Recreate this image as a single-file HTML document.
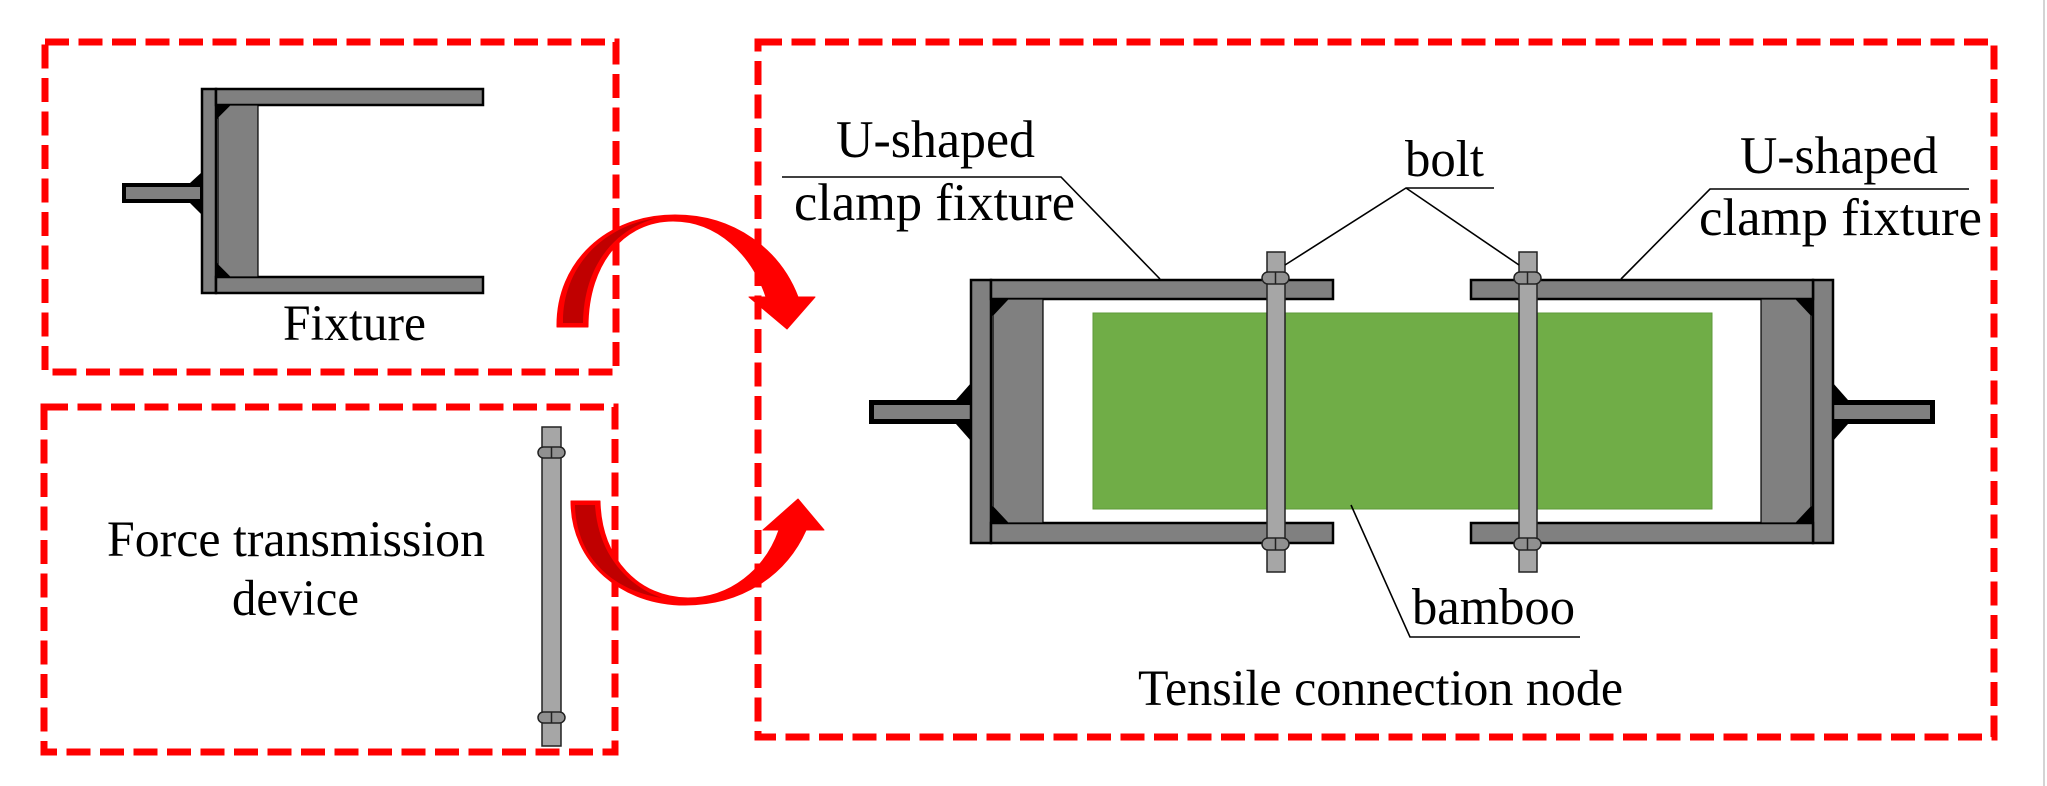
<!DOCTYPE html>
<html>
<head>
<meta charset="utf-8">
<style>
  html,body{margin:0;padding:0;background:#fff;}
  svg{display:block;}
  text{font-family:"Liberation Serif","Times New Roman",serif;fill:#000;}
</style>
</head>
<body>
<svg width="2047" height="786" viewBox="0 0 2047 786" xmlns="http://www.w3.org/2000/svg">
  <rect x="0" y="0" width="2047" height="786" fill="#fff"/>
  <rect x="2043" y="0" width="2" height="786" fill="#d4d4d4"/>

  <!-- Dashed frames -->
  <g fill="none" stroke="#ff0000" stroke-width="7" stroke-dasharray="24 9.5">
    <rect x="45" y="42" width="571" height="330"/>
    <rect x="44" y="407" width="571" height="345"/>
    <rect x="758" y="42" width="1236" height="695"/>
  </g>

  <!-- Top-left fixture -->
  <g>
    <polygon points="202,172 202,215 190,203 190,183" fill="#000"/>
    <rect x="122" y="183" width="80" height="20" fill="#000"/>
    <rect x="126" y="187" width="74" height="12" fill="#808080"/>
    <rect x="202" y="89" width="14" height="204" fill="#808080" stroke="#000" stroke-width="2.5"/>
    <rect x="216" y="89" width="267" height="16" fill="#808080" stroke="#000" stroke-width="2.5"/>
    <rect x="216" y="277" width="267" height="16" fill="#808080" stroke="#000" stroke-width="2.5"/>
    <polygon points="216,105 231,105 216,120" fill="#000"/>
    <polygon points="216,277 231,277 216,262" fill="#000"/>
    <polygon points="230,105 258,105 258,277 230,277 218,265 218,117" fill="#808080" stroke="#000" stroke-width="1.2"/>
  </g>
  <text x="283" y="340" font-size="51" textLength="143" lengthAdjust="spacingAndGlyphs">Fixture</text>

  <!-- Force transmission device -->
  <text x="107" y="556" font-size="51" textLength="378" lengthAdjust="spacingAndGlyphs">Force transmission</text>
  <text x="232" y="615" font-size="51" textLength="127" lengthAdjust="spacingAndGlyphs">device</text>
  <g stroke="#222" stroke-width="1.5">
    <rect x="542" y="427" width="19" height="319" fill="#a6a6a6"/>
    <rect x="538" y="447" width="27" height="11" rx="5.5" fill="#909090"/>
    <line x1="551.5" y1="447" x2="551.5" y2="458"/>
    <rect x="538" y="712" width="27" height="11" rx="5.5" fill="#909090"/>
    <line x1="551.5" y1="712" x2="551.5" y2="723"/>
  </g>

  <!-- Curved arrows -->
  <path d="M557,327 C556,262 607,215 675,215 C735,215 780,250 798,297 L815,297 L787,329 L749,297 L766,297 C752,255 718,221 673,221 C625,221 588,262 588,327 Z" fill="#ff0000" stroke="#ff0000" stroke-width="1" stroke-linejoin="round"/>
  <path d="M563,323 C562,270 600,226 657,218 C618,228 584,262 583,323 Z" fill="#c00000"/>

  <path d="M571,501 C571,563 622,605 685,605 C742,605 786,575 806,530 L824,530 L798,499 L763,530 L779,530 C765,570 730,598 688,598 C640,598 601,560 600,501 Z" fill="#ff0000" stroke="#ff0000" stroke-width="1" stroke-linejoin="round"/>
  <path d="M575,505 C576,555 610,590 662,598 C625,585 598,552 595,505 Z" fill="#c00000"/>

  <!-- Bamboo -->
  <rect x="1093" y="313" width="619" height="196" fill="#70ad47" stroke="#5e9a38" stroke-width="1"/>

  <!-- Left clamp fixture in right box -->
  <g>
    <polygon points="971,383 971,441 956,424 956,400" fill="#000"/>
    <rect x="869" y="400" width="102" height="24" fill="#000"/>
    <rect x="874" y="405" width="96" height="14" fill="#808080"/>
    <rect x="971" y="280" width="20" height="263" fill="#808080" stroke="#000" stroke-width="2.5"/>
    <rect x="991" y="280" width="342" height="19" fill="#808080" stroke="#000" stroke-width="2.5"/>
    <rect x="991" y="523" width="342" height="20" fill="#808080" stroke="#000" stroke-width="2.5"/>
    <polygon points="991,299 1008,299 991,317" fill="#000"/>
    <polygon points="991,523 1008,523 991,505" fill="#000"/>
    <polygon points="1008,299 1043,299 1043,523 1008,523 993,507 993,315" fill="#808080" stroke="#000" stroke-width="1.2"/>
  </g>
  <!-- Right clamp fixture (mirror) -->
  <g transform="translate(2804,0) scale(-1,1)">
    <polygon points="971,383 971,441 956,424 956,400" fill="#000"/>
    <rect x="869" y="400" width="102" height="24" fill="#000"/>
    <rect x="874" y="405" width="96" height="14" fill="#808080"/>
    <rect x="971" y="280" width="20" height="263" fill="#808080" stroke="#000" stroke-width="2.5"/>
    <rect x="991" y="280" width="342" height="19" fill="#808080" stroke="#000" stroke-width="2.5"/>
    <rect x="991" y="523" width="342" height="20" fill="#808080" stroke="#000" stroke-width="2.5"/>
    <polygon points="991,299 1008,299 991,317" fill="#000"/>
    <polygon points="991,523 1008,523 991,505" fill="#000"/>
    <polygon points="1008,299 1043,299 1043,523 1008,523 993,507 993,315" fill="#808080" stroke="#000" stroke-width="1.2"/>
  </g>

  <!-- Bolts -->
  <g stroke="#222" stroke-width="1.5">
    <rect x="1267" y="252" width="18" height="320" fill="#a6a6a6"/>
    <rect x="1262" y="272" width="27" height="12" rx="6" fill="#909090"/>
    <line x1="1275.5" y1="272" x2="1275.5" y2="284"/>
    <rect x="1262" y="538" width="27" height="12" rx="6" fill="#909090"/>
    <line x1="1275.5" y1="538" x2="1275.5" y2="550"/>

    <rect x="1519" y="252" width="18" height="320" fill="#a6a6a6"/>
    <rect x="1514" y="272" width="27" height="12" rx="6" fill="#909090"/>
    <line x1="1527.5" y1="272" x2="1527.5" y2="284"/>
    <rect x="1514" y="538" width="27" height="12" rx="6" fill="#909090"/>
    <line x1="1527.5" y1="538" x2="1527.5" y2="550"/>
  </g>

  <!-- Leader lines -->
  <g stroke="#000" stroke-width="1.6" fill="none">
    <polyline points="782,177 1061,177 1160,279"/>
    <polyline points="1969,189 1710,189 1621,279"/>
    <polyline points="1494,188 1406,188 1285,265"/>
    <line x1="1406" y1="188" x2="1519" y2="265"/>
    <polyline points="1580,637 1410,637 1351,505"/>
  </g>

  <!-- Labels -->
  <text x="836" y="157" font-size="53" textLength="199" lengthAdjust="spacingAndGlyphs">U-shaped</text>
  <text x="794" y="220" font-size="53" textLength="281" lengthAdjust="spacingAndGlyphs">clamp fixture</text>
  <text x="1405" y="176" font-size="52" textLength="79" lengthAdjust="spacingAndGlyphs">bolt</text>
  <text x="1740" y="173" font-size="53" textLength="198" lengthAdjust="spacingAndGlyphs">U-shaped</text>
  <text x="1699" y="235" font-size="53" textLength="283" lengthAdjust="spacingAndGlyphs">clamp fixture</text>
  <text x="1412" y="624" font-size="52" textLength="163" lengthAdjust="spacingAndGlyphs">bamboo</text>
  <text x="1138" y="705" font-size="51" textLength="485" lengthAdjust="spacingAndGlyphs">Tensile connection node</text>
</svg>
</body>
</html>
